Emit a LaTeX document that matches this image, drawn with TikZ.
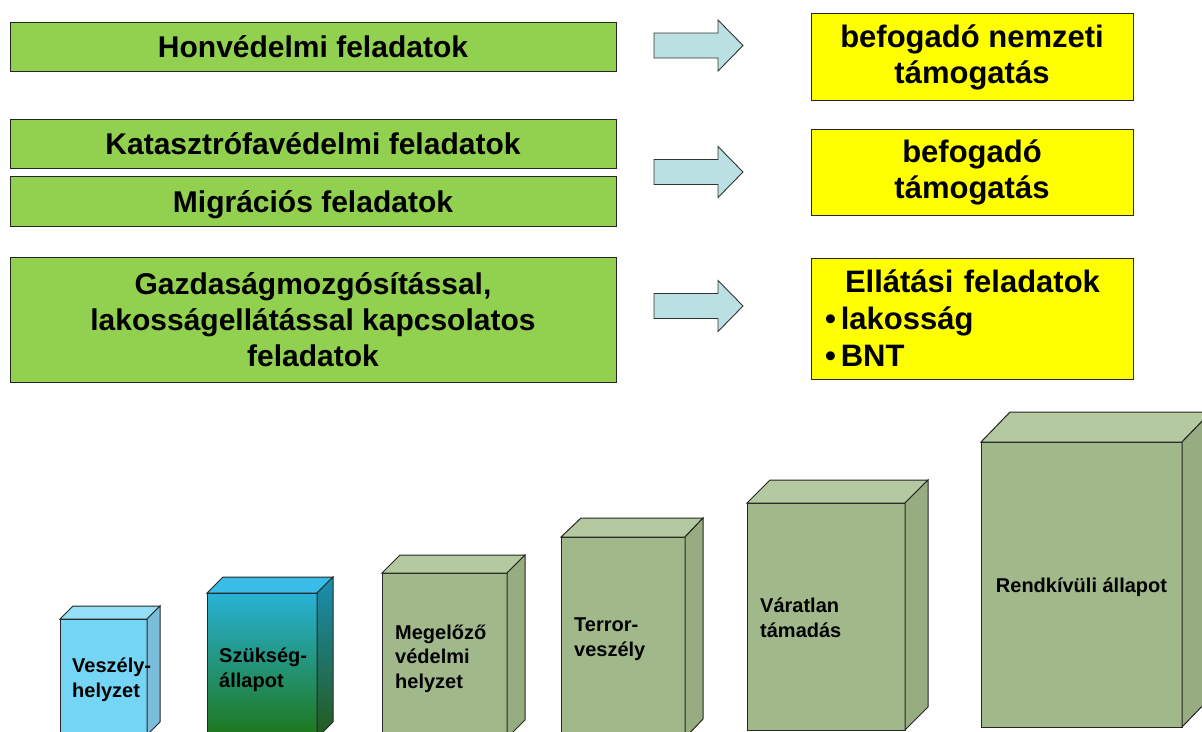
\documentclass[tikz,border=0pt]{standalone}
\usepackage{fontspec}
\setmainfont{Liberation Sans}
\usetikzlibrary{calc}
\definecolor{taskgreen}{HTML}{92D050}
\definecolor{resyellow}{HTML}{FFFF00}
\definecolor{arrowfill}{RGB}{187,224,227}
\definecolor{olivefront}{RGB}{161,185,138}
\definecolor{olivetop}{RGB}{180,201,160}
\definecolor{oliveside}{RGB}{151,172,128}
\definecolor{bluefront}{RGB}{116,213,245}
\definecolor{bluetop}{RGB}{148,222,248}
\definecolor{blueside}{RGB}{122,190,219}
\definecolor{gradtop}{RGB}{40,178,215}
\definecolor{gradmid}{RGB}{168,188,110}
\definecolor{gradbot}{RGB}{30,118,26}
\definecolor{gradtopface}{RGB}{58,188,232}
\definecolor{sidetop}{RGB}{26,142,178}
\definecolor{sidemid}{RGB}{104,140,92}
\definecolor{sidebot}{RGB}{36,90,28}
\tikzset{
  edge/.style={draw=black!85, line width=1pt},
  task/.style={edge, fill=taskgreen, minimum width=606pt, inner sep=0pt, outer sep=0pt,
    font=\fontsize{30}{36}\selectfont\bfseries, align=center, anchor=north west},
  result/.style={edge, fill=resyellow, minimum width=322pt, inner sep=0pt, outer sep=0pt,
    font=\fontsize{31}{36}\selectfont\bfseries, align=center, anchor=north west},
  arrowbody/.style={draw=black!80, line width=0.9pt, fill=arrowfill, line join=miter},
  blockarrow/.pic={\path[arrowbody] (0,-12.5) -- (64,-12.5) -- (64,-25.5) -- (89,0) -- (64,25.5) -- (64,12.5) -- (0,12.5) -- cycle;},
  facefront/.style={edge, inner sep=0pt, outer sep=0pt, anchor=north west},
  face/.style={edge, line join=miter},
  boxtext/.style={font=\fontsize{20}{24.5}\selectfont\bfseries, align=left, anchor=base west, inner sep=0pt}
}
\begin{document}
\begin{tikzpicture}[x=1pt,y=-1pt]
\useasboundingbox (0,0) rectangle (1202,731);
\clip (0,0) rectangle (1202,731);

% left task boxes
\node[task, minimum height=49pt, text height=22pt, text depth=0pt] (hon) at (10,22) {Honvédelmi feladatok};
\node[task, minimum height=49pt, text height=22pt, text depth=0pt] (kat) at (10,119) {Katasztrófavédelmi feladatok};
\node[task, minimum height=50pt, text height=22pt, text depth=0pt] (mig) at (10,176) {Migrációs feladatok};
\node[task, minimum height=125pt] (gaz) at (10,257) {Gazdaságmozgósítással,\\lakosságellátással kapcsolatos\\feladatok};

% block arrows
\pic at (654,45.5) {blockarrow};
\pic at (654,172) {blockarrow};
\pic at (654,306) {blockarrow};

% right result boxes
\node[result, minimum height=87pt, yshift=-1.5pt] (r1) at (811,12) {\rule{0pt}{3pt}befogadó nemzeti\\támogatás};
\node[result, minimum height=86pt] (r2) at (811,129) {befogadó\\támogatás};
\node[result, minimum height=121pt, inner xsep=14pt, text width=294pt, align=left,
      font=\fontsize{31}{37}\selectfont\bfseries] (r3) at (811,258)
  {\hspace*{20pt}Ellátási feladatok\\•\hspace{5pt}lakosság\\•\hspace{5pt}BNT};

% box 1: Veszélyhelyzet
\node[facefront, fill=bluefront, minimum width=87pt, minimum height=116pt] (b1) at (60,619) {};
\draw[face, fill=bluetop] (b1.north west) -- ++(13,-13) -- ($(b1.north east)+(13,-13)$) -- (b1.north east) -- cycle;
\draw[face, fill=blueside] (b1.north east) -- ++(13,-13) -- ($(b1.south east)+(13,-13)$) -- (b1.south east) -- cycle;

% box 2: Szükségállapot
\node[facefront, top color=gradtop, middle color=gradmid, bottom color=gradbot, minimum width=110pt, minimum height=145pt] (b2) at (207,593) {};
\draw[face, fill=gradtopface] (b2.north west) -- ++(16,-16) -- ($(b2.north east)+(16,-16)$) -- (b2.north east) -- cycle;
\draw[face, top color=sidetop, middle color=sidemid, bottom color=sidebot] (b2.north east) -- ++(16,-16) -- ($(b2.south east)+(16,-16)$) -- (b2.south east) -- cycle;

% box 3: Megelőző védelmi helyzet
\node[facefront, fill=olivefront, minimum width=125pt, minimum height=165pt] (b3) at (382,573) {};
\draw[face, fill=olivetop] (b3.north west) -- ++(18,-18) -- ($(b3.north east)+(18,-18)$) -- (b3.north east) -- cycle;
\draw[face, fill=oliveside] (b3.north east) -- ++(18,-18) -- ($(b3.south east)+(18,-18)$) -- (b3.south east) -- cycle;

% box 4: Terrorveszély
\node[facefront, fill=olivefront, minimum width=124pt, minimum height=201pt] (b4) at (561,537) {};
\draw[face, fill=olivetop] (b4.north west) -- ++(20,-19) -- ($(b4.north east)+(18,-19)$) -- (b4.north east) -- cycle;
\draw[face, fill=oliveside] (b4.north east) -- ++(18,-19) -- ($(b4.south east)+(18,-19)$) -- (b4.south east) -- cycle;

% box 5: Váratlan támadás
\node[facefront, fill=olivefront, minimum width=158pt, minimum height=227pt] (b5) at (747,503) {};
\draw[face, fill=olivetop] (b5.north west) -- ++(23,-23) -- ($(b5.north east)+(23,-23)$) -- (b5.north east) -- cycle;
\draw[face, fill=oliveside] (b5.north east) -- ++(23,-23) -- ($(b5.south east)+(23,-23)$) -- (b5.south east) -- cycle;

% box 6: Rendkívüli állapot
\node[facefront, fill=olivefront, minimum width=201pt, minimum height=285pt] (b6) at (981,442) {};
\draw[face, fill=olivetop] (b6.north west) -- ++(29,-30) -- ($(b6.north east)+(29,-30)$) -- (b6.north east) -- cycle;
\draw[face, fill=oliveside] (b6.north east) -- ++(29,-30) -- ($(b6.south east)+(29,-30)$) -- (b6.south east) -- cycle;

% box labels (anchor = baseline of the last line)
\node[boxtext] (t1) at (72,697) {Veszély-\\helyzet};
\node[boxtext] (t2) at (219,687) {Szükség-\\állapot};
\node[boxtext] (t3) at (395,688) {Megelőző\\védelmi\\helyzet};
\node[boxtext] (t4) at (574,656) {Terror-\\veszély};
\node[boxtext] (t5) at (760,637) {Váratlan\\támadás};
\node[boxtext, anchor=base] (t6) at (1081.5,592) {Rendkívüli állapot};
\end{tikzpicture}
\end{document}
